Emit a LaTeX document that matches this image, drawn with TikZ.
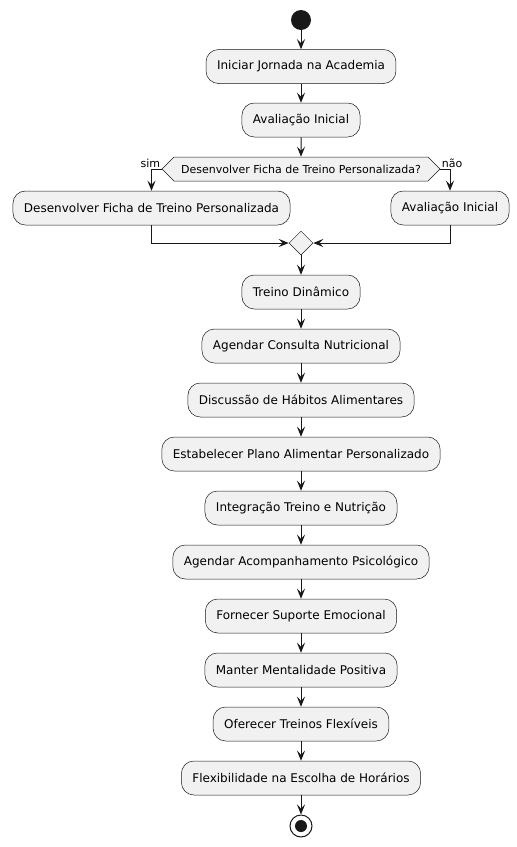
\documentclass[tikz,border=0pt]{standalone}
\usepackage{fontspec}
\setmainfont{DejaVu Sans}
\usetikzlibrary{shapes.geometric,shapes.symbols,arrows.meta}
\definecolor{ink}{HTML}{181818}
\definecolor{boxfill}{HTML}{F1F1F1}
\begin{document}
\begin{tikzpicture}
    [
    x=1pt,y=-1pt,
    activity/.style={rectangle,rounded corners=12.5pt,draw=ink,line width=0.5pt,fill=boxfill,inner xsep=11pt,inner ysep=0pt,minimum height=34pt,font=\fontsize{12}{14}\selectfont},
    choice/.style={signal,signal to=west and east,signal pointer angle=90,draw=ink,line width=0.5pt,fill=boxfill,inner xsep=5pt,inner ysep=0pt,minimum height=24pt,minimum width=278pt,font=\fontsize{11}{13}\selectfont},
    merge/.style={diamond,draw=ink,line width=0.5pt,fill=boxfill,inner sep=0pt,minimum size=24pt},
    startpoint/.style={circle,fill=ink,inner sep=0pt,minimum size=20pt},
    endpoint/.style={circle,draw=ink,line width=1pt,fill=white,inner sep=0pt,minimum size=22pt,path picture={\fill[ink] (path picture bounding box.center) circle (6pt);}},
    flow/.style={draw=ink,line width=1pt,-{Stealth[length=10pt,width=8pt,inset=4pt]}},
    guard/.style={font=\fontsize{11}{13}\selectfont,inner sep=1pt}
    ]
    \useasboundingbox (0,0) rectangle (517,847);
    \node (start) at (301,20) [startpoint] {};
    \node (iniciar) at (301,66.5) [activity] {Iniciar Jornada na Academia};
    \node (avaliacao) at (301,120) [activity] {Avaliação Inicial};
    \node (decisao) at (301,169) [choice] {Desenvolver Ficha de Treino Personalizada?};
    \node (ficha) at (151.5,208) [activity] {Desenvolver Ficha de Treino Personalizada};
    \node (avaliacao2) at (450,208) [activity] {Avaliação Inicial};
    \node (juncao) at (301,243) [merge] {};
    \node (treino) at (301,292) [activity] {Treino Dinâmico};
    \node (consulta) at (301,346) [activity] {Agendar Consulta Nutricional};
    \node (habitos) at (301,400) [activity] {Discussão de Hábitos Alimentares};
    \node (plano) at (301,454) [activity] {Estabelecer Plano Alimentar Personalizado};
    \node (integracao) at (301,508) [activity] {Integração Treino e Nutrição};
    \node (psico) at (301,562) [activity] {Agendar Acompanhamento Psicológico};
    \node (suporte) at (301,616) [activity] {Fornecer Suporte Emocional};
    \node (mentalidade) at (301,670) [activity] {Manter Mentalidade Positiva};
    \node (flexiveis) at (301,724) [activity] {Oferecer Treinos Flexíveis};
    \node (horarios) at (301,778) [activity] {Flexibilidade na Escolha de Horários};
    \node (stop) at (301,826) [endpoint] {};
    % ramos da decisao
    \draw [flow] (start) to (iniciar);
    \draw [flow] (iniciar) to (avaliacao);
    \draw [flow] (avaliacao) to (decisao);
    \draw [flow] (decisao.west) -| node [guard,at start,anchor=south east] {sim} (ficha.north);
    \draw [flow] (decisao.east) -| node [guard,at start,anchor=south west] {não} (avaliacao2.north);
    \draw [flow] (ficha.south) |- (juncao.west);
    \draw [flow] (avaliacao2.south) |- (juncao.east);
    % sequencia principal
    \draw [flow] (juncao) to (treino);
    \draw [flow] (treino) to (consulta);
    \draw [flow] (consulta) to (habitos);
    \draw [flow] (habitos) to (plano);
    \draw [flow] (plano) to (integracao);
    \draw [flow] (integracao) to (psico);
    \draw [flow] (psico) to (suporte);
    \draw [flow] (suporte) to (mentalidade);
    \draw [flow] (mentalidade) to (flexiveis);
    \draw [flow] (flexiveis) to (horarios);
    \draw [flow] (horarios) to (stop);
  \end{tikzpicture}
\end{document}
